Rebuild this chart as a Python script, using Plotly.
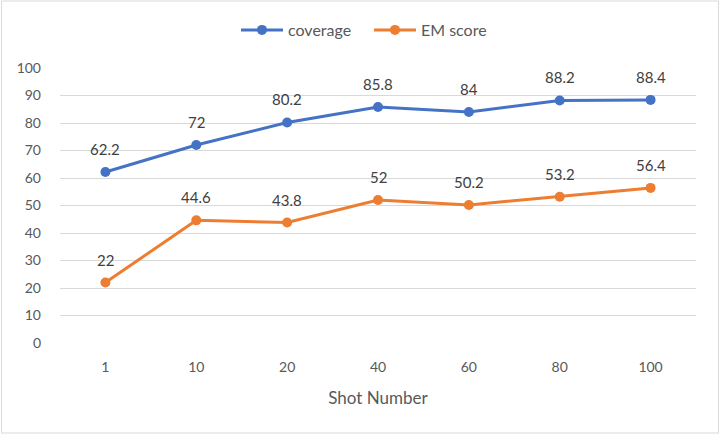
import plotly.graph_objects as go

categories = ["1", "10", "20", "40", "60", "80", "100"]
coverage = [62.2, 72, 80.2, 85.8, 84, 88.2, 88.4]
em_score = [22, 44.6, 43.8, 52, 50.2, 53.2, 56.4]
y_ticks = [0, 10, 20, 30, 40, 50, 60, 70, 80, 90, 100]

FONT = "Lato, 'Open Sans', sans-serif"
series = [("coverage", coverage, "#4472C4"), ("EM score", em_score, "#ED7D31")]
fig = go.Figure()
annotations = []
for name, vals, color in series:
    fig.add_trace(go.Scatter(
        x=categories, y=vals, name=name, mode="lines+markers",
        line=dict(color=color, width=3), marker=dict(color=color, size=10),
        cliponaxis=False,
    ))
    for i, v in enumerate(vals):
        annotations.append(dict(x=i, y=v, text=f"{v:g}", showarrow=False,
                                yanchor="bottom", yshift=12,
                                font=dict(size=15, color="#404040", family=FONT)))

L, R, T, B = 59.5, 23.5, 68, 91
pw = 720 - L - R
ph = 434 - T - B
fig.update_layout(
    width=720, height=434,
    margin=dict(l=L, r=R, t=T, b=B, autoexpand=False),
    paper_bgcolor="white", plot_bgcolor="white",
    font=dict(family=FONT, size=14, color="#595959"),
    annotations=annotations,
    legend=dict(orientation="h", xref="container", yref="container",
                x=236 / 720, xanchor="left", y=1 - 30 / 434, yanchor="middle",
                font=dict(size=16, color="#595959"), entrywidth=76, itemwidth=42),
    xaxis=dict(type="category", range=[-0.5, 6.5], showgrid=False, showline=False, ticks="",
               ticklabelstandoff=14,
               tickfont=dict(size=14, color="#595959"),
               title=dict(text="Shot Number", font=dict(size=17, color="#595959"), standoff=18)),
    yaxis=dict(range=[0, 100], tickvals=y_ticks, showgrid=True, gridcolor="#D9D9D9", gridwidth=1,
               zeroline=False, showline=False, ticks="", ticklabelstandoff=18,
               tickfont=dict(size=14, color="#595959")),
    shapes=[dict(type="rect", xref="paper", yref="paper",
                 x0=-(L - 1) / pw, x1=(720 - L - 1) / pw,
                 y0=-(B - 1) / ph, y1=(434 - B - 1) / ph,
                 line=dict(color="#D9D9D9", width=1), fillcolor="rgba(0,0,0,0)", layer="below")],
)
fig.write_html("out.html", config={"displayModeBar": False},
               post_script="document.body.style.margin='0';document.body.style.overflow='hidden';")
